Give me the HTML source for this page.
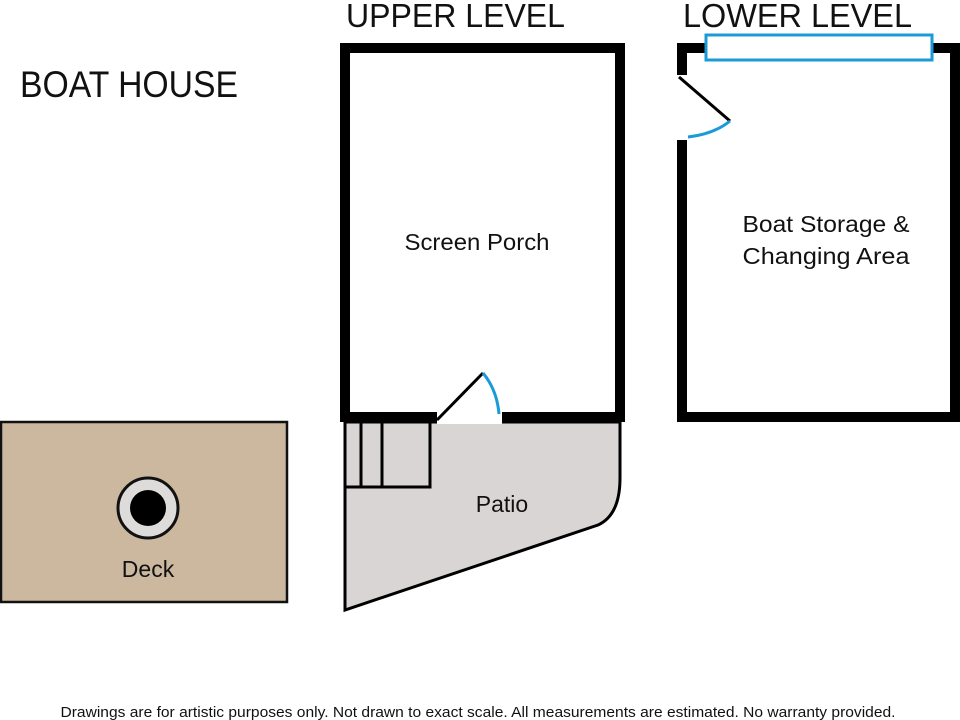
<!DOCTYPE html>
<html><head><style>body{margin:0;background:#fff}svg{display:block}</style></head><body>
<svg width="960" height="720" viewBox="0 0 960 720" xmlns="http://www.w3.org/2000/svg" font-family="'Liberation Sans', sans-serif">
<rect width="960" height="720" fill="#fff"/>
<text x="20" y="97" font-size="37" fill="#111" textLength="218" lengthAdjust="spacingAndGlyphs">BOAT HOUSE</text>
<text x="346" y="27" font-size="33" fill="#111" textLength="219" lengthAdjust="spacingAndGlyphs">UPPER LEVEL</text>
<text x="683" y="27" font-size="33" fill="#111" textLength="229" lengthAdjust="spacingAndGlyphs">LOWER LEVEL</text>
<!-- Deck -->
<rect x="1" y="422" width="286" height="180" fill="#cbb89e" stroke="#111" stroke-width="2.5"/>
<circle cx="148" cy="508" r="30" fill="#dedbdb" stroke="#111" stroke-width="3"/>
<circle cx="148" cy="508" r="18" fill="#000"/>
<text x="148" y="577" font-size="23" text-anchor="middle" fill="#111">Deck</text>
<!-- Patio -->
<path d="M345 422 L620 422 L620 478 Q620 515 598 525 L345 610 Z" fill="#d9d5d4" stroke="#000" stroke-width="3"/>
<rect x="345" y="422" width="85" height="65" fill="none" stroke="#000" stroke-width="3"/>
<line x1="361" y1="422" x2="361" y2="487" stroke="#000" stroke-width="3"/>
<line x1="382" y1="422" x2="382" y2="487" stroke="#000" stroke-width="3"/>
<text x="502" y="512" font-size="23" text-anchor="middle" fill="#111">Patio</text>
<!-- Upper box -->
<path d="M437 417 L345 417 L345 48 L620 48 L620 417 L502 417" fill="none" stroke="#000" stroke-width="10"/>
<rect x="437" y="412" width="65" height="12" fill="#fff"/>
<line x1="437" y1="420" x2="483" y2="373" stroke="#000" stroke-width="3"/>
<path d="M483 373 Q497 390 499 414" fill="none" stroke="#1a9bd7" stroke-width="3"/>
<text x="477" y="250" font-size="23" text-anchor="middle" fill="#111" textLength="145" lengthAdjust="spacingAndGlyphs">Screen Porch</text>
<!-- Lower box -->
<path d="M682 75 L682 48 L955 48 L955 417 L682 417 L682 140" fill="none" stroke="#000" stroke-width="10"/>
<rect x="706" y="35" width="226" height="25" fill="#fff" stroke="#1a9bd7" stroke-width="3"/>
<line x1="679" y1="77" x2="730" y2="121" stroke="#000" stroke-width="3"/>
<path d="M730 121 Q714 134 688 137" fill="none" stroke="#1a9bd7" stroke-width="3"/>
<text x="826" y="232" font-size="23" text-anchor="middle" fill="#111" textLength="167" lengthAdjust="spacingAndGlyphs">Boat Storage &amp;</text>
<text x="826" y="264" font-size="23" text-anchor="middle" fill="#111" textLength="167" lengthAdjust="spacingAndGlyphs">Changing Area</text>
<text x="478" y="717" font-size="15" text-anchor="middle" fill="#111" textLength="835" lengthAdjust="spacingAndGlyphs">Drawings are for artistic purposes only. Not drawn to exact scale. All measurements are estimated. No warranty provided.</text>
</svg>
</body></html>
